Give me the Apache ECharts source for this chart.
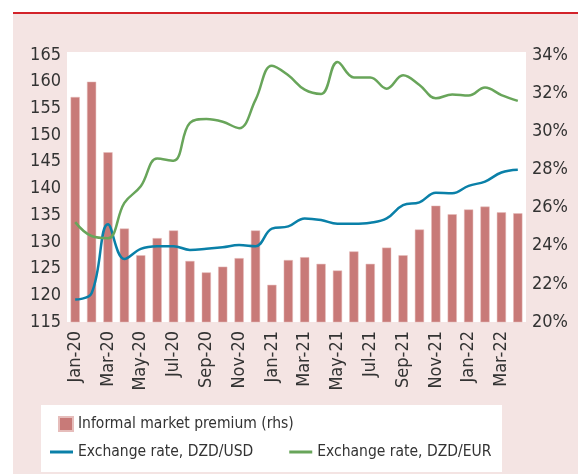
<!DOCTYPE html>
<html>
<head>
<meta charset="utf-8">
<script src="https://cdn.jsdelivr.net/npm/echarts@6/dist/echarts.min.js"></script>
<style>
  html, body { margin: 0; padding: 0; background: #fff; }
  #chart { width: 578px; height: 474px; }
</style>
</head>
<body>
<div id="chart"></div>
<script>
// months on the x axis
var months = ['Jan-20','Feb-20','Mar-20','Apr-20','May-20','Jun-20','Jul-20','Aug-20','Sep-20','Oct-20','Nov-20','Dec-20',
              'Jan-21','Feb-21','Mar-21','Apr-21','May-21','Jun-21','Jul-21','Aug-21','Sep-21','Oct-21','Nov-21','Dec-21',
              'Jan-22','Feb-22','Mar-22','Apr-22'];
// informal market premium, % (rhs)
var premium = [31.8, 32.6, 28.9, 24.9, 23.5, 24.4, 24.8, 23.2, 22.6, 22.9, 23.35, 24.8,
               21.95, 23.25, 23.4, 23.05, 22.7, 23.7, 23.05, 23.9, 23.5, 24.85, 26.1, 25.65,
               25.9, 26.05, 25.75, 25.7];
// exchange rate DZD/USD
var usd = [119.2, 120.4, 133.3, 126.8, 128.7, 129.2, 129.2, 128.5, 128.7, 129.0, 129.4, 129.2,
           132.5, 132.9, 134.4, 134.1, 133.4, 133.4, 133.6, 134.4, 136.9, 137.4, 139.2, 139.1,
           140.5, 141.3, 143.0, 143.5];
// exchange rate DZD/EUR
var eur = [133.7, 131.1, 130.7, 137.3, 140.4, 145.6, 145.2, 152.3, 153.0, 152.5, 151.3, 156.6,
           163.0, 161.2, 158.5, 157.7, 163.7, 160.8, 160.8, 158.7, 161.2, 159.4, 156.9, 157.6,
           157.4, 158.9, 157.5, 156.4];

var font = '"DejaVu Sans Condensed", "DejaVu Sans", sans-serif';

var myChart = echarts.init(document.getElementById('chart'));
var option = {
    backgroundColor: '#fff',
    animation: false,
    graphic: [
        { type: 'rect', shape: { x: 13, y: 14, width: 565, height: 460 }, style: { fill: '#f4e4e3' }, z: -10 },
        { type: 'rect', shape: { x: 13, y: 12, width: 565, height: 2 }, style: { fill: '#d3222a' }, z: -9 },
        { type: 'rect', shape: { x: 67, y: 52, width: 459, height: 270 }, style: { fill: '#fff' }, z: -8 },
        { type: 'rect', shape: { x: 41, y: 405, width: 461, height: 67 }, style: { fill: '#fff' }, z: -8 }
    ],
    grid: { left: 67, right: 52, top: 55, bottom: 152 },
    legend: [
        {
            left: 58, top: 416, padding: 0,
            itemWidth: 14, itemHeight: 14,
            data: [{ name: 'Informal market premium (rhs)', icon: 'rect' }],
            textStyle: { fontFamily: font, fontSize: 15.5, color: '#333' }
        },
        {
            left: 50, top: 444, padding: 0,
            itemWidth: 23, itemHeight: 3, itemGap: 36,
            data: [{ name: 'Exchange rate, DZD/USD', icon: 'rect' }, { name: 'Exchange rate, DZD/EUR', icon: 'rect' }],
            textStyle: { fontFamily: font, fontSize: 15.5, color: '#333' }
        }
    ],
    xAxis: {
        type: 'category',
        data: months,
        axisLine: { show: false },
        axisTick: { show: false },
        axisLabel: {
            interval: 1,
            rotate: 90,
            margin: 9,
            fontFamily: font,
            fontSize: 18,
            color: '#333'
        }
    },
    yAxis: [
        {
            type: 'value',
            min: 115, max: 165, interval: 5,
            axisLine: { show: false },
            axisTick: { show: false },
            splitLine: { show: false },
            axisLabel: { margin: 6, fontFamily: font, fontSize: 18, color: '#333' }
        },
        {
            type: 'value',
            min: 20, max: 34, interval: 2,
            position: 'right',
            axisLine: { show: false },
            axisTick: { show: false },
            splitLine: { show: false },
            axisLabel: { margin: 6, formatter: '{value}%', fontFamily: font, fontSize: 18, color: '#333' }
        }
    ],
    series: [
        {
            name: 'Informal market premium (rhs)',
            type: 'bar',
            yAxisIndex: 1,
            barWidth: '56%',
            itemStyle: { color: '#c87a78', borderColor: '#e6bdbb', borderWidth: 0.5 },
            data: premium
        },
        {
            name: 'Exchange rate, DZD/USD',
            type: 'line',
            smooth: 0.4,
            showSymbol: false,
            lineStyle: { color: '#0a80a8', width: 2.5 },
            itemStyle: { color: '#0a80a8' },
            data: usd
        },
        {
            name: 'Exchange rate, DZD/EUR',
            type: 'line',
            smooth: 0.4,
            showSymbol: false,
            lineStyle: { color: '#68a55a', width: 2.5 },
            itemStyle: { color: '#68a55a' },
            data: eur
        }
    ]
};
myChart.setOption(option);
</script>
</body>
</html>
